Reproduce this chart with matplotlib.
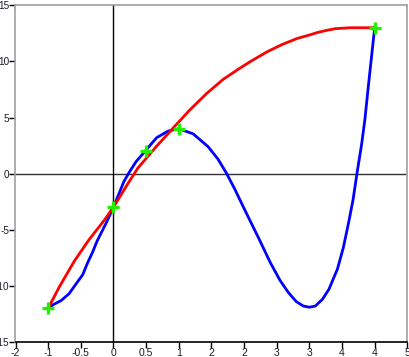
import matplotlib
matplotlib.use("Agg")
import matplotlib.pyplot as plt

# Data
node_x = [-1, 0, 0.5, 1, 4]
node_y = [-12, -3, 2, 4, 13]

blue_x = [-1.0, -0.93, -0.8, -0.68, -0.57, -0.47, -0.4, -0.32, -0.25, -0.12, 0.0, 0.16, 0.25, 0.35, 0.5,
          0.66, 0.84, 1.0, 1.22, 1.45, 1.6, 1.73, 1.86, 2.0, 2.22, 2.4, 2.55, 2.68, 2.8,
          2.91, 3.0, 3.09, 3.2, 3.3, 3.43, 3.52, 3.6, 3.67, 3.73, 3.8, 3.85, 3.9, 3.95, 4.0]
blue_y = [-12.0, -11.7, -11.3, -10.7, -9.8, -9.0, -8.0, -7.0, -6.0, -4.5, -3.0, -0.7, 0.2, 1.1, 2.1,
          3.2, 3.8, 4.0, 3.55, 2.4, 1.3, 0.05, -1.4, -3.1, -5.7, -7.9, -9.5, -10.6, -11.4,
          -11.8, -11.9, -11.8, -11.2, -10.3, -8.5, -6.6, -4.4, -2.3, 0.05, 2.6, 4.8, 7.6, 10.3, 13.0]

red_x = [-1.0, -0.83, -0.6, -0.37, -0.14, 0.015, 0.22, 0.374, 0.657, 0.912, 1.17, 1.43,
         1.68, 1.91, 2.1, 2.35, 2.58, 2.81, 3.0, 3.12, 3.25, 3.4, 3.63, 4.0]
red_y = [-12.0, -10.1, -7.8, -5.85, -4.15, -2.85, -0.9, 0.5, 2.42, 4.05, 5.68, 7.16,
         8.4, 9.3, 10.0, 10.85, 11.5, 12.04, 12.35, 12.57, 12.75, 12.92, 13.0, 13.0]

x_ticks = [-1.5, -1, -0.5, 0, 0.5, 1, 1.5, 2, 2.5, 3, 3.5, 4, 4.5]
x_tick_labels = ["-2", "-1", "-0.5", "0", "0.5", "1", "2", "2", "3", "3", "4", "4", "5"]
y_ticks = [-15, -10, -5, 0, 5, 10, 15]
y_tick_labels = ["-15", "-10", "-5", "0", "5", "10", "15"]

plt.rcParams['font.family'] = ['Liberation Sans', 'DejaVu Sans']

W, H = 410, 357
fig = plt.figure(figsize=(W / 100, H / 100), dpi=100)
left, right, top, bottom = 15.5, 407.3, 5.3, 342.0
ax = fig.add_axes([left / W, (H - bottom) / H, (right - left) / W, (bottom - top) / H])

ax.set_xlim(-1.5, 4.5)
ax.set_ylim(-15, 15)

ax.axhline(0, color='#303030', lw=1.0, zorder=1)
ax.axvline(0, color='#000000', lw=1.0, zorder=1)

ax.plot(blue_x, blue_y, color='#0000ff', lw=2.0, zorder=2)
ax.plot(red_x, red_y, color='#ff0000', lw=2.0, zorder=3)
ax.plot(node_x, node_y, linestyle='none', marker='+', color='#22ee00',
        markersize=8, markeredgewidth=2.4, zorder=4)

for s in ['left', 'top', 'right']:
    ax.spines[s].set_color('#a0a0a0')
    ax.spines[s].set_linewidth(1.2)
ax.spines['bottom'].set_color('#000000')
ax.spines['bottom'].set_linewidth(1.2)

ax.set_xticks(x_ticks)
ax.set_xticklabels(x_tick_labels)
ax.set_yticks(y_ticks)
ax.set_yticklabels(y_tick_labels)
ax.tick_params(axis='x', direction='out', length=4, width=1, color='black',
               labelsize=7.5, labelcolor='#1a1a2a', pad=0.5)
ax.tick_params(axis='y', direction='out', length=4, width=1, color='black',
               labelsize=7.2, labelcolor='#1a1a2a', pad=0.5)

fig.savefig('out.png', dpi=100)
